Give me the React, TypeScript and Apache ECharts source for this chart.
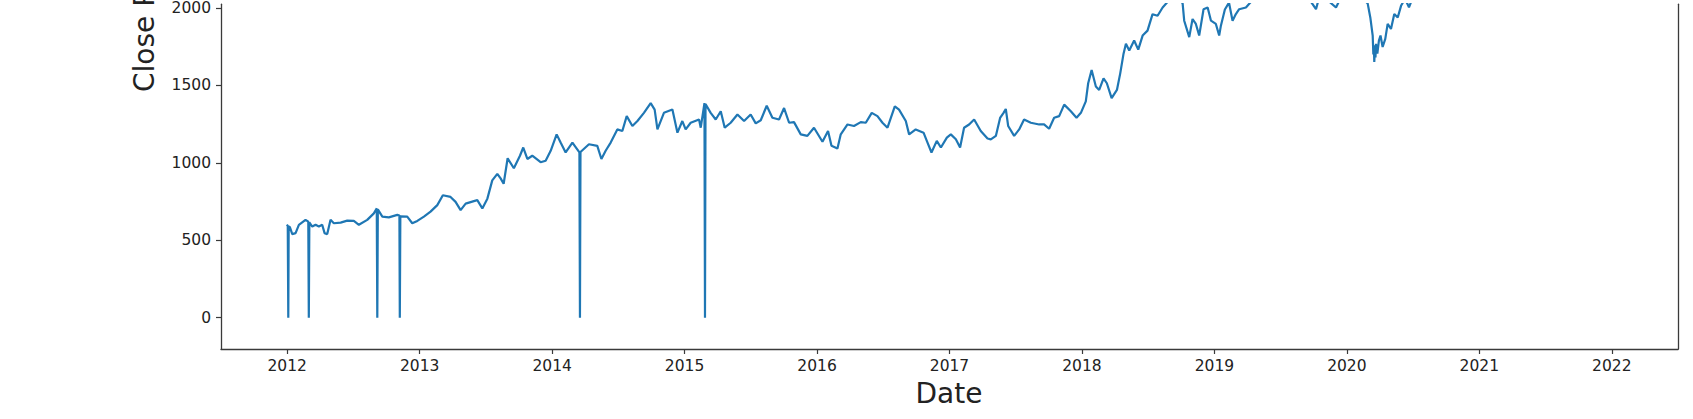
import React, { useEffect, useRef } from "react";
import * as echarts from "echarts";

// Decimal years (x) and close prices (y).
const years: number[] = [
  2011.995, 2012.004, 2012.008, 2012.011, 2012.02, 2012.038, 2012.063, 2012.088, 2012.138, 2012.159,
  2012.163, 2012.167, 2012.189, 2012.214, 2012.239, 2012.264, 2012.282, 2012.302, 2012.327, 2012.352,
  2012.403, 2012.453, 2012.503, 2012.541, 2012.604, 2012.654, 2012.676, 2012.68, 2012.684, 2012.718,
  2012.767, 2012.831, 2012.847, 2012.85, 2012.854, 2012.906, 2012.944, 2012.982, 2013.032, 2013.082,
  2013.133, 2013.175, 2013.233, 2013.271, 2013.309, 2013.347, 2013.409, 2013.435, 2013.473, 2013.511,
  2013.548, 2013.586, 2013.611, 2013.634, 2013.664, 2013.711, 2013.757, 2013.782, 2013.813, 2013.85,
  2013.913, 2013.951, 2013.989, 2014.034, 2014.064, 2014.102, 2014.153, 2014.206, 2014.21, 2014.214,
  2014.278, 2014.341, 2014.372, 2014.404, 2014.442, 2014.492, 2014.53, 2014.563, 2014.606, 2014.644,
  2014.693, 2014.744, 2014.774, 2014.795, 2014.844, 2014.908, 2014.946, 2014.983, 2015.008, 2015.046,
  2015.109, 2015.122, 2015.15, 2015.154, 2015.158, 2015.197, 2015.235, 2015.273, 2015.303, 2015.348,
  2015.399, 2015.449, 2015.499, 2015.537, 2015.575, 2015.62, 2015.663, 2015.713, 2015.751, 2015.789,
  2015.826, 2015.877, 2015.927, 2015.977, 2016.041, 2016.083, 2016.109, 2016.154, 2016.179, 2016.23,
  2016.279, 2016.33, 2016.368, 2016.413, 2016.456, 2016.494, 2016.532, 2016.587, 2016.619, 2016.67,
  2016.695, 2016.745, 2016.804, 2016.834, 2016.864, 2016.904, 2016.935, 2016.98, 2017.01, 2017.048,
  2017.08, 2017.11, 2017.148, 2017.186, 2017.236, 2017.287, 2017.312, 2017.35, 2017.382, 2017.408,
  2017.425, 2017.443, 2017.488, 2017.526, 2017.563, 2017.614, 2017.677, 2017.714, 2017.752, 2017.79,
  2017.828, 2017.866, 2017.916, 2017.959, 2017.992, 2018.029, 2018.047, 2018.073, 2018.105, 2018.13,
  2018.163, 2018.188, 2018.224, 2018.264, 2018.289, 2018.314, 2018.332, 2018.357, 2018.394, 2018.425,
  2018.458, 2018.495, 2018.533, 2018.571, 2018.609, 2018.647, 2018.687, 2018.732, 2018.76, 2018.772,
  2018.81, 2018.835, 2018.86, 2018.885, 2018.918, 2018.949, 2018.974, 2019.011, 2019.036, 2019.049,
  2019.079, 2019.11, 2019.137, 2019.162, 2019.187, 2019.238, 2019.276, 2019.351, 2019.502, 2019.653,
  2019.729, 2019.767, 2019.782, 2019.842, 2019.918, 2019.956, 2020.069, 2020.157, 2020.177, 2020.195,
  2020.2, 2020.204, 2020.207, 2020.212, 2020.216, 2020.22, 2020.23, 2020.242, 2020.254, 2020.27,
  2020.29, 2020.308, 2020.333, 2020.358, 2020.384, 2020.409, 2020.439, 2020.469, 2020.499, 2020.635,
  2020.862, 2021.013, 2021.466, 2021.768, 2021.919, 2022.002,
];

const closes: number[] = [
  600, 595, 0, 590, 585, 540, 546, 600, 632, 620,
  0, 616, 589, 600, 589, 600, 546, 540, 632, 610,
  614, 627, 625, 600, 632, 674, 706, 0, 700, 653,
  648, 664, 660, 0, 655, 653, 610, 625, 653, 685,
  727, 791, 780, 748, 695, 737, 753, 759, 706, 769,
  887, 929, 900, 865, 1030, 965, 1046, 1099, 1025, 1046,
  1004, 1014, 1078, 1184, 1131, 1067, 1131, 1067, 0, 1070,
  1120, 1110, 1025, 1078, 1131, 1216, 1206, 1302, 1238, 1270,
  1323, 1386, 1344, 1216, 1323, 1344, 1195, 1270, 1216, 1259,
  1280, 1227, 1386, 0, 1380, 1323, 1280, 1333, 1227, 1259,
  1312, 1270, 1312, 1255, 1275, 1369, 1291, 1280, 1354, 1259,
  1263, 1184, 1174, 1227, 1136, 1206, 1110, 1093, 1184, 1248,
  1238, 1263, 1259, 1323, 1302, 1259, 1227, 1365, 1344, 1270,
  1184, 1216, 1195, 1131, 1067, 1142, 1099, 1163, 1184, 1152,
  1099, 1227, 1248, 1280, 1206, 1157, 1152, 1174, 1290, 1323,
  1348, 1238, 1174, 1216, 1280, 1259, 1248, 1248, 1220, 1291,
  1302, 1376, 1333, 1291, 1323, 1397, 1514, 1599, 1493, 1471,
  1546, 1514, 1418, 1471, 1578, 1705, 1769, 1726, 1790, 1731,
  1822, 1854, 1960, 1950, 2003, 2040, 2080, 2060, 2030, 1918,
  1812, 1929, 1897, 1822, 1992, 2003, 1918, 1897, 1822, 1886,
  1990, 2035, 1918, 1961, 1992, 2003, 2040, 2080, 2100, 2080,
  2040, 1992, 2040, 2060, 2003, 2070, 2100, 2030, 1939, 1822,
  1700, 1760, 1652, 1740, 1680, 1769, 1705, 1790, 1822, 1748,
  1801, 1897, 1865, 1961, 1939, 2014, 2060, 2005, 2070, 2150,
  2300, 2800, 3200, 3800, 4040, 3900,
];

const xTicks: number[] = [2012, 2013, 2014, 2015, 2016, 2017, 2018, 2019, 2020, 2021, 2022];
const yTicks: number[] = [0, 500, 1000, 1500, 2000];

const FONT = "DejaVu Sans";
const AXIS_COLOR = "#3a3a3a";
const TEXT_COLOR = "#222";

export default function App() {
  const ref = useRef<HTMLDivElement>(null);

  useEffect(() => {
    if (!ref.current) return;
    const chart = echarts.init(ref.current, undefined, { renderer: "svg" });
    const data = years.map((y, i) => [y, closes[i]]);
    chart.setOption({
      animation: false,
      backgroundColor: "#ffffff",
      grid: { left: 221, right: 15, top: 0, bottom: 70, containLabel: false },
      xAxis: {
        type: "value",
        min: 2011.5,
        max: 2022.5,
        splitLine: { show: false },
        axisLine: { show: true, onZero: false, lineStyle: { color: AXIS_COLOR, width: 1.3 } },
        axisTick: { show: true, length: 5, customValues: xTicks, lineStyle: { color: AXIS_COLOR, width: 1.2 } },
        axisLabel: {
          customValues: xTicks,
          formatter: (v: number) => String(v),
          color: TEXT_COLOR,
          fontFamily: FONT,
          fontSize: 15.5,
          margin: 9,
        },
      },
      yAxis: [
        {
          type: "value",
          min: -202,
          max: 2025,
          splitLine: { show: false },
          axisLine: { show: true, onZero: false, lineStyle: { color: AXIS_COLOR, width: 1.3 } },
          axisTick: { show: true, length: 5, customValues: yTicks, lineStyle: { color: AXIS_COLOR, width: 1.2 } },
          axisLabel: {
            customValues: yTicks,
            formatter: (v: number) => String(v),
            color: TEXT_COLOR,
            fontFamily: FONT,
            fontSize: 15.5,
            margin: 10,
          },
        },
        {
          type: "value",
          position: "right",
          min: -202,
          max: 2025,
          splitLine: { show: false },
          axisLine: { show: true, onZero: false, lineStyle: { color: AXIS_COLOR, width: 1.3 } },
          axisTick: { show: false },
          axisLabel: { show: false },
        },
      ],
      graphic: [
        {
          type: "text",
          x: 949,
          y: 393,
          style: {
            text: "Date",
            fill: TEXT_COLOR,
            font: `28px '${FONT}'`,
            textAlign: "center",
            textVerticalAlign: "middle",
          },
        },
        {
          type: "text",
          x: 144,
          y: 92,
          rotation: Math.PI / 2,
          style: {
            text: "Close Price",
            fill: TEXT_COLOR,
            font: `28px '${FONT}'`,
            textAlign: "left",
            textVerticalAlign: "middle",
          },
        },
      ],
      series: [
        {
          type: "line",
          data,
          showSymbol: false,
          symbol: "none",
          clip: true,
          lineStyle: { color: "#1f77b4", width: 2.2 },
        },
      ],
    });
    return () => chart.dispose();
  }, []);

  return (
    <div
      ref={ref}
      style={{ position: "absolute", left: 0, top: 0, width: 1693, height: 419 }}
    />
  );
}
